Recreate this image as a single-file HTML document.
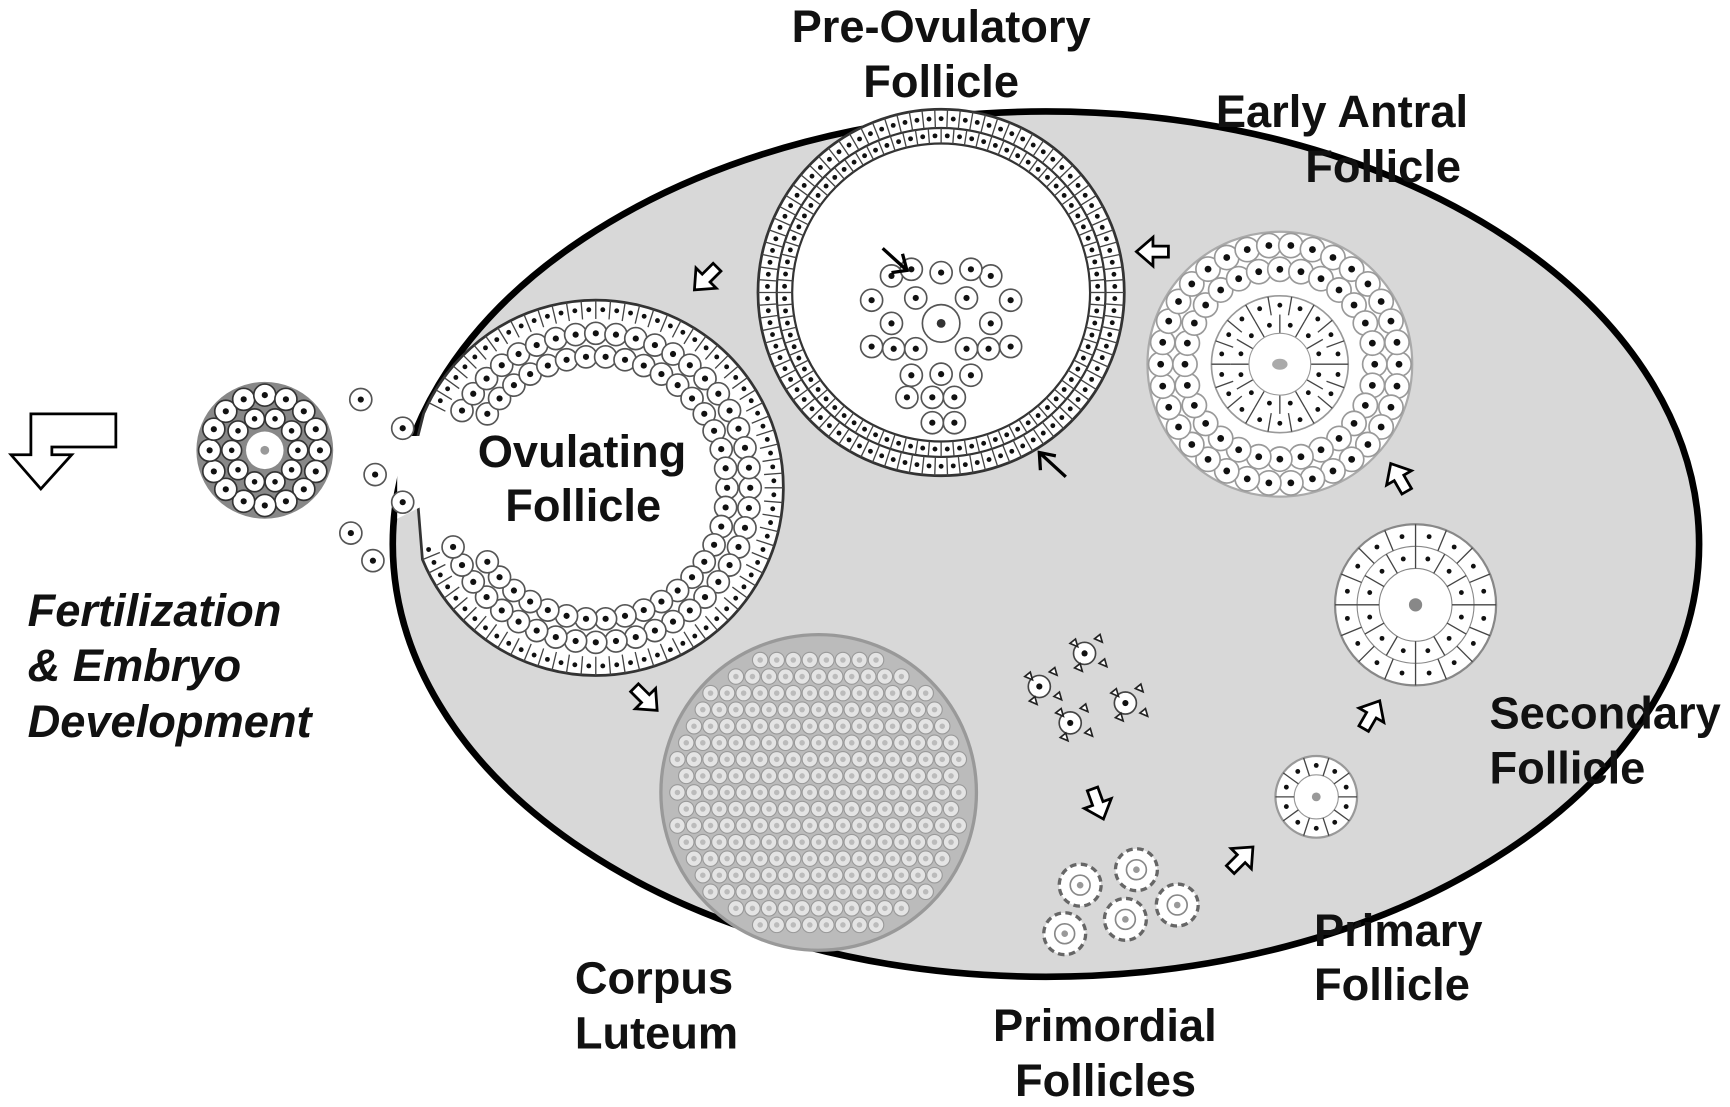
<!DOCTYPE html>
<html><head><meta charset="utf-8"><style>
html,body{margin:0;padding:0;background:#fff;width:1730px;height:1107px;overflow:hidden}
svg{display:block}
text{font-family:"Liberation Sans",sans-serif;font-weight:bold;font-size:41px;fill:#111}
</style></head><body>
<svg id="s" width="1730" height="1107" viewBox="0 0 1568 1003" preserveAspectRatio="none" xmlns="http://www.w3.org/2000/svg">
<ellipse cx="948" cy="493" rx="592" ry="392" fill="#d8d8d8" stroke="#000" stroke-width="6"/>
<g id="cells"></g>
<g id="arrows"></g>
<path d="M105,375 L28,375 L28,412 L10,412 L37,443 L65,412 L47,412 L47,405 L105,405 Z" fill="#fff" stroke="#000" stroke-width="2.5"/>
<g>
<text x="853" y="38" text-anchor="middle">Pre-Ovulatory</text>
<text x="853" y="88" text-anchor="middle">Follicle</text>
<text x="1102" y="115">Early Antral</text>
<text x="1183" y="165">Follicle</text>
<text x="433" y="423">Ovulating</text>
<text x="458" y="472">Follicle</text>
<text x="25" y="567" font-style="italic">Fertilization</text>
<text x="25" y="617" font-style="italic">&amp; Embryo</text>
<text x="25" y="668" font-style="italic">Development</text>
<text x="1350" y="660">Secondary</text>
<text x="1350" y="710">Follicle</text>
<text x="521" y="900">Corpus</text>
<text x="521" y="950">Luteum</text>
<text x="900" y="943">Primordial</text>
<text x="920" y="993">Follicles</text>
<text x="1191" y="857">Primary</text>
<text x="1191" y="906">Follicle</text>
</g>
</svg>
<script>
const NS="http://www.w3.org/2000/svg";
const G=document.getElementById('cells');
function el(tag,attrs,parent,name){const e=document.createElementNS(NS,tag);for(const k in attrs)e.setAttribute(k,attrs[k]);


(parent||G).appendChild(e);return e;}
function cell(x,y,r,stroke,nuc,name){el('circle',{cx:x,cy:y,r:r,fill:'#fff',stroke:stroke||'#555','stroke-width':1.5},G,name||'cell');
el('circle',{cx:x,cy:y,r:nuc||r*0.28,fill:'#111'},G,'cell-nucleus');}
function ring(cx,cy,r,n,cr,skip,stroke){for(let i=0;i<n;i++){const a=i/n*2*Math.PI;
if(skip&&skip(a))continue;cell(cx+r*Math.cos(a),cy+r*Math.sin(a),cr,stroke);}}
function boxRing(cx,cy,r1,r2,n,skip){for(let i=0;i<n;i++){const a=i/n*2*Math.PI;if(skip&&skip(a))continue;
el('line',{x1:cx+r1*Math.cos(a),y1:cy+r1*Math.sin(a),x2:cx+r2*Math.cos(a),y2:cy+r2*Math.sin(a),stroke:'#444','stroke-width':1.2},G,'cell-wall');
const b=a+Math.PI/n,rm=(r1+r2)/2;el('circle',{cx:cx+rm*Math.cos(b),cy:cy+rm*Math.sin(b),r:2.2,fill:'#111'},G,'cell-nucleus');}}
(function(){const cx=853,cy=265;
el('circle',{cx,cy,r:166,fill:'#fff',stroke:'#333','stroke-width':2.5},G,'pre-ovulatory-follicle');
el('circle',{cx,cy,r:149,fill:'none',stroke:'#333','stroke-width':2},G,'pre-ovulatory-ring');
el('circle',{cx,cy,r:135,fill:'none',stroke:'#333','stroke-width':2},G,'pre-ovulatory-ring');
boxRing(cx,cy,149,166,90);boxRing(cx,cy,135,149,80);
const pts=[[853,293],[830,270],[876,270],[830,316],[876,316],[853,247],[853,339],[808,293],[898,293],[808,250],[898,250],[826,244],[880,244],[810,316],[896,316],[826,340],[880,340],[790,272],[916,272],[790,314],[916,314],[845,360],[845,383],[865,360],[865,383],[822,360]];
pts.forEach((p,i)=>{if(i==0){el('circle',{cx:p[0],cy:p[1],r:17,fill:'#fff',stroke:'#555','stroke-width':1.5},G,'oocyte');el('circle',{cx:p[0],cy:p[1],r:4,fill:'#333'},G,'oocyte-nucleus');}else cell(p[0],p[1],10);});
el('path',{d:'M800,225 L822,245 M808,247 L822,245 L818,230',stroke:'#000','stroke-width':3,fill:'none'},G,'antrum-arrow');
el('path',{d:'M966,432 L942,410 M943,426 L942,410 L957,413',stroke:'#000','stroke-width':3,fill:'none'},G,'granulosa-arrow');
})();
(function(){const cx=540,cy=442;const sk=a=>(a>2.75&&a<3.55);
el('path',{d:'M'+(cx+170*Math.cos(3.55))+','+(cy+170*Math.sin(3.55))+' A170,170 0 1 1 '+(cx+170*Math.cos(2.75))+','+(cy+170*Math.sin(2.75))+' L375,410 Z',fill:'#fff',stroke:'#333','stroke-width':2.5},G,'ovulating-follicle');
boxRing(cx,cy,153,170,80,sk);
ring(cx,cy,140,48,10,sk);ring(cx,cy,119,42,10,a=>(a>2.6&&a<3.7));
el('polygon',{points:'360,395 405,395 420,440 360,470',fill:'#fff'},G,'opening');
[[365,388],[340,430],[365,455],[318,483],[338,508],[327,362]].forEach(p=>cell(p[0],p[1],10));
const ox=240,oy=408;
el('circle',{cx:ox,cy:oy,r:62,fill:'#888'},G,'released-oocyte-cluster');
ring(ox,oy,50,16,10,null,'#333');ring(ox,oy,30,10,9,null,'#333');
el('circle',{cx:ox,cy:oy,r:17,fill:'#fff'},G,'released-oocyte');el('circle',{cx:ox,cy:oy,r:4,fill:'#999'},G,'oocyte-nucleus');
})();
(function(){const cx=1160,cy=330;
el('circle',{cx,cy,r:120,fill:'#fff',stroke:'#aaa','stroke-width':2},G,'early-antral-follicle');
ring(cx,cy,108,34,11,null,'#999');ring(cx,cy,86,28,11,null,'#999');
el('circle',{cx,cy,r:62,fill:'#fff',stroke:'#999','stroke-width':1.5},G,'corona');
boxRing(cx,cy,45,62,18);boxRing(cx,cy,28,45,12);
el('circle',{cx,cy,r:28,fill:'#fff',stroke:'#999'},G,'oocyte');el('ellipse',{cx,cy,rx:7,ry:5,fill:'#aaa'},G,'oocyte-nucleus');
})();
(function(){const cx=1283,cy=548;
el('circle',{cx,cy,r:73,fill:'#fff',stroke:'#888','stroke-width':2},G,'secondary-follicle');
el('circle',{cx,cy,r:53,fill:'none',stroke:'#888'},G,'ring');el('circle',{cx,cy,r:33,fill:'none',stroke:'#888'},G,'ring');
boxRing(cx,cy,53,73,16);boxRing(cx,cy,33,53,12);
el('circle',{cx,cy,r:6,fill:'#888'},G,'oocyte-nucleus');})();
(function(){const cx=1193,cy=722;
el('circle',{cx,cy,r:37,fill:'#fff',stroke:'#999','stroke-width':2},G,'primary-follicle');
el('circle',{cx,cy,r:20,fill:'none',stroke:'#999'},G,'oocyte');boxRing(cx,cy,20,37,10);
el('circle',{cx,cy,r:4,fill:'#999'},G,'oocyte-nucleus');})();
[[979,802],[1030,788],[1067,820],[1020,833],[965,846]].forEach(p=>{
el('circle',{cx:p[0],cy:p[1],r:19,fill:'#fff',stroke:'#666','stroke-width':3,'stroke-dasharray':'6 4'},G,'primordial-follicle');
el('circle',{cx:p[0],cy:p[1],r:9,fill:'#fff',stroke:'#888','stroke-width':1.5},G,'oocyte');
el('circle',{cx:p[0],cy:p[1],r:3,fill:'#999'},G,'oocyte-nucleus');});
[[983,592],[942,622],[1020,637],[970,655]].forEach(p=>{cell(p[0],p[1],10,'#444');
for(let k=0;k<4;k++){const a=k*Math.PI/2+0.6;el('path',{d:`M${p[0]+16*Math.cos(a)},${p[1]+16*Math.sin(a)} l5,-4 l2,7 z`,fill:'#fff',stroke:'#222','stroke-width':1.5},G,'pregranulosa-cell');}});
(function(){const cx=742,cy=718,R=143;
el('circle',{cx,cy,r:R,fill:'#bbb',stroke:'#999','stroke-width':3},G,'corpus-luteum');
for(let y=cy-R+8;y<cy+R;y+=15){for(let x=cx-R+8+((y/15|0)%2)*7;x<cx+R;x+=15){if(Math.hypot(x-cx,y-cy)<R-8){
el('circle',{cx:x,cy:y,r:7,fill:'#e4e4e4',stroke:'#999','stroke-width':1},G,'luteal-cell');
el('circle',{cx:x,cy:y,r:2.5,fill:'#bbb'},G,'luteal-nucleus');}}}
})();
const A=document.getElementById('arrows');
const arrows=[[1045,228,180],[640,252,135],[585,633,45],[995,728,70],[1125,778,-45],[1243,648,-60],[1268,433,-120]];
arrows.forEach(a=>{const p=document.createElementNS(NS,'path');
p.setAttribute('d','M-14,-5 L0,-5 L0,-13 L15,0 L0,13 L0,5 L-14,5 Z');
p.setAttribute('transform',`translate(${a[0]},${a[1]}) rotate(${a[2]})`);
p.setAttribute('fill','#fff');p.setAttribute('stroke','#000');p.setAttribute('stroke-width','2.5');


A.appendChild(p);});
</script>
</body></html>
